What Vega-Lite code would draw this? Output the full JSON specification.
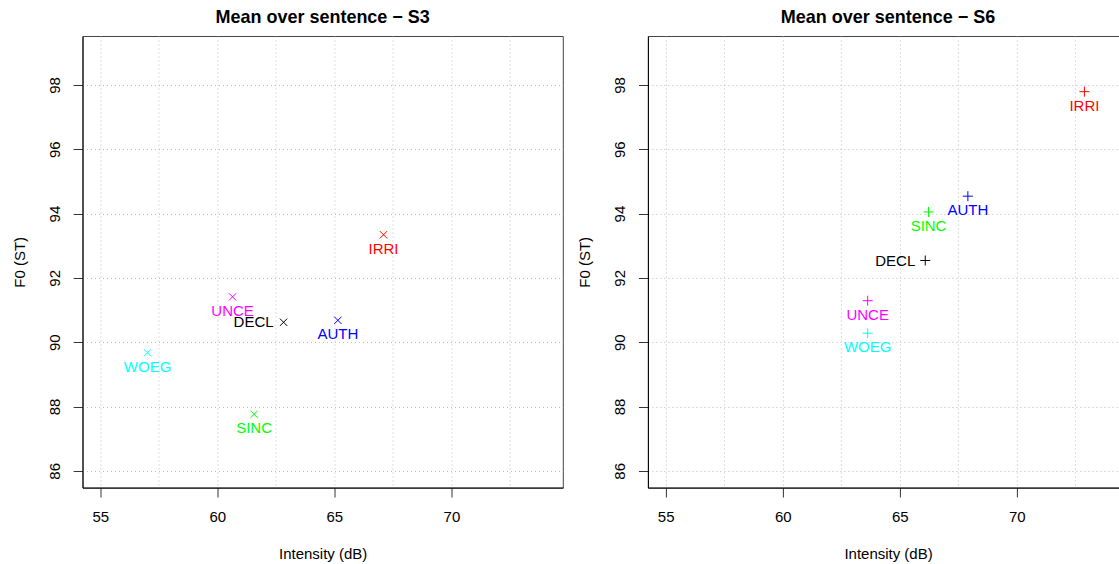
{
  "$schema": "https://vega.github.io/schema/vega-lite/v6.json",
  "background": "white",
  "padding": {"left": 11.5, "top": 9, "right": 0, "bottom": 0},
  "bounds": "flush",
  "spacing": 84.4,
  "config": {
    "font": "Liberation Sans",
    "view": {"stroke": "#444", "strokeWidth": 1},
    "axis": {
      "labelFont": "Liberation Sans",
      "labelFontSize": 15,
      "labelColor": "black",
      "titleFont": "Liberation Sans",
      "titleFontSize": 15,
      "titleFontWeight": "normal",
      "titleColor": "black",
      "tickSize": 9.4,
      "tickColor": "#333",
      "tickWidth": 1,
      "domainColor": "black",
      "domainWidth": 1,
      "gridColor": "#bdbdbd",
      "gridDash": [1, 3],
      "gridWidth": 1,
      "labelOverlap": false,
      "labelFlush": false
    },
    "title": {
      "font": "Liberation Sans",
      "fontSize": 18,
      "fontWeight": "bold",
      "color": "black",
      "anchor": "middle",
      "baseline": "alphabetic",
      "offset": 8.5
    }
  },
  "datasets": {
    "pts": [
      {"sentence": "S3", "emotion": "IRRI", "intensity": 67.10, "f0": 93.34},
      {"sentence": "S3", "emotion": "UNCE", "intensity": 60.65, "f0": 91.41},
      {"sentence": "S3", "emotion": "DECL", "intensity": 62.83, "f0": 90.62},
      {"sentence": "S3", "emotion": "AUTH", "intensity": 65.15, "f0": 90.68},
      {"sentence": "S3", "emotion": "WOEG", "intensity": 57.02, "f0": 89.67},
      {"sentence": "S3", "emotion": "SINC", "intensity": 61.57, "f0": 87.76},
      {"sentence": "S6", "emotion": "IRRI", "intensity": 72.89, "f0": 97.79},
      {"sentence": "S6", "emotion": "AUTH", "intensity": 67.91, "f0": 94.54},
      {"sentence": "S6", "emotion": "SINC", "intensity": 66.23, "f0": 94.05},
      {"sentence": "S6", "emotion": "DECL", "intensity": 66.09, "f0": 92.54},
      {"sentence": "S6", "emotion": "UNCE", "intensity": 63.63, "f0": 91.29},
      {"sentence": "S6", "emotion": "WOEG", "intensity": 63.63, "f0": 90.28}
    ]
  },
  "hconcat": [
    {
      "width": 480.3,
      "height": 451.6,
      "title": "Mean over sentence − S3",
      "data": {"name": "pts"},
      "transform": [{"filter": "datum.sentence === 'S3'"}],
      "encoding": {
        "x": {
          "field": "intensity", "type": "quantitative",
          "scale": {"domain": [54.24, 74.76], "nice": false, "zero": false},
          "axis": {
            "title": "Intensity (dB)",
            "values": [55, 57.5, 60, 62.5, 65, 67.5, 70, 72.5],
            "labelExpr": "datum.value % 5 === 0 ? datum.label : ''",
            "tickOpacity": {"condition": {"test": "datum.value % 5 === 0", "value": 1}, "value": 0},
            "labelPadding": 13,
            "titlePadding": 22,
            "grid": true
          }
        },
        "y": {
          "field": "f0", "type": "quantitative",
          "scale": {"domain": [85.48, 99.52], "nice": false, "zero": false},
          "axis": {
            "title": "F0 (ST)",
            "values": [86, 88, 90, 92, 94, 96, 98],
            "labelAngle": -90,
            "labelAlign": "center",
            "labelBaseline": "alphabetic",
            "labelPadding": 14,
            "titlePadding": 20,
            "grid": true
          }
        },
        "color": {
          "field": "emotion", "type": "nominal",
          "scale": {"domain": ["IRRI", "UNCE", "DECL", "AUTH", "WOEG", "SINC"], "range": ["#FF0000", "#FF00FF", "#000000", "#0000FF", "#00FFFF", "#00FF00"]},
          "legend": null
        }
      },
      "layer": [
        {"mark": {"type": "point", "shape": "M-1,-1L1,1M-1,1L1,-1", "size": 53, "filled": false, "strokeWidth": 1, "opacity": 1}},
        {"transform": [{"filter": "datum.emotion !== 'DECL'"}], "mark": {"type": "text", "dy": 14, "fontSize": 15, "baseline": "middle"}, "encoding": {"text": {"field": "emotion"}}},
        {"transform": [{"filter": "datum.emotion === 'DECL'"}], "mark": {"type": "text", "align": "right", "dx": -10, "fontSize": 15, "baseline": "middle"}, "encoding": {"text": {"field": "emotion"}}}
      ]
    },
    {
      "width": 480.3,
      "height": 451.6,
      "title": "Mean over sentence − S6",
      "data": {"name": "pts"},
      "transform": [{"filter": "datum.sentence === 'S6'"}],
      "encoding": {
        "x": {
          "field": "intensity", "type": "quantitative",
          "scale": {"domain": [54.24, 74.76], "nice": false, "zero": false},
          "axis": {
            "title": "Intensity (dB)",
            "values": [55, 57.5, 60, 62.5, 65, 67.5, 70, 72.5],
            "labelExpr": "datum.value % 5 === 0 ? datum.label : ''",
            "tickOpacity": {"condition": {"test": "datum.value % 5 === 0", "value": 1}, "value": 0},
            "labelPadding": 13,
            "titlePadding": 22,
            "grid": true
          }
        },
        "y": {
          "field": "f0", "type": "quantitative",
          "scale": {"domain": [85.48, 99.52], "nice": false, "zero": false},
          "axis": {
            "title": "F0 (ST)",
            "values": [86, 88, 90, 92, 94, 96, 98],
            "labelAngle": -90,
            "labelAlign": "center",
            "labelBaseline": "alphabetic",
            "labelPadding": 14,
            "titlePadding": 20,
            "grid": true
          }
        },
        "color": {
          "field": "emotion", "type": "nominal",
          "scale": {"domain": ["IRRI", "UNCE", "DECL", "AUTH", "WOEG", "SINC"], "range": ["#FF0000", "#FF00FF", "#000000", "#0000FF", "#00FFFF", "#00FF00"]},
          "legend": null
        }
      },
      "layer": [
        {"mark": {"type": "point", "shape": "M-1,0L1,0M0,-1L0,1", "size": 100, "filled": false, "strokeWidth": 1, "opacity": 1}},
        {"transform": [{"filter": "datum.emotion !== 'DECL'"}], "mark": {"type": "text", "dy": 14, "fontSize": 15, "baseline": "middle"}, "encoding": {"text": {"field": "emotion"}}},
        {"transform": [{"filter": "datum.emotion === 'DECL'"}], "mark": {"type": "text", "align": "right", "dx": -10, "fontSize": 15, "baseline": "middle"}, "encoding": {"text": {"field": "emotion"}}}
      ]
    }
  ]
}
